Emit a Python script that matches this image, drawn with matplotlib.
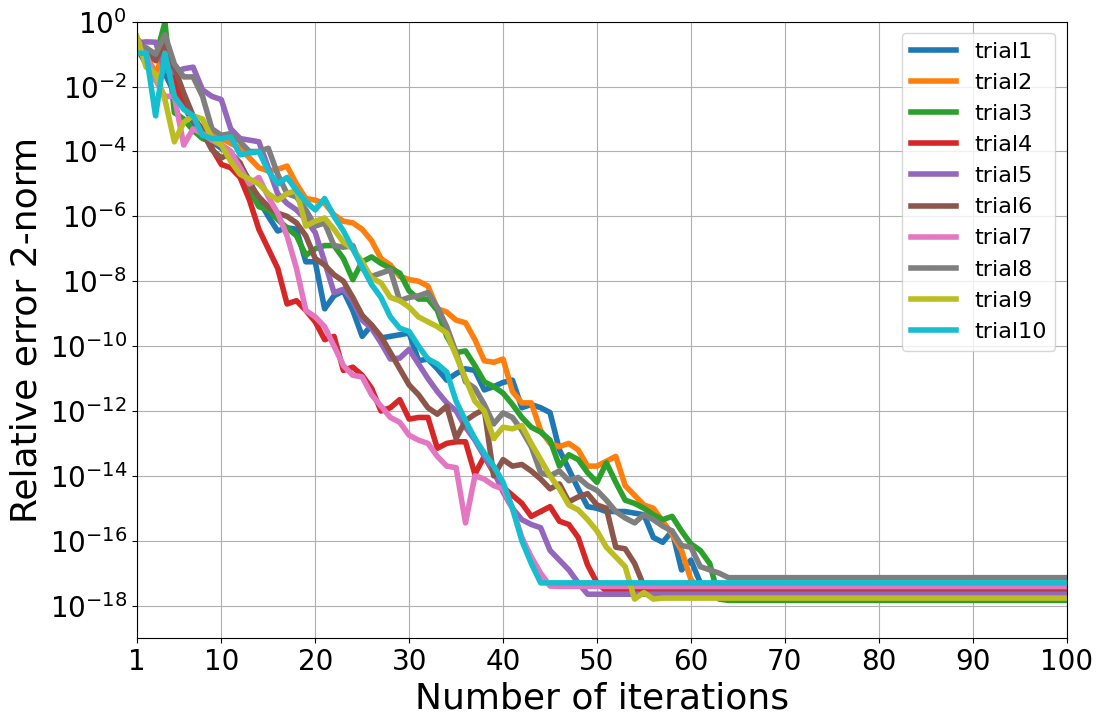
import numpy as np
import matplotlib
matplotlib.use("Agg")
import matplotlib.pyplot as plt

iters = np.arange(1, 101)

# log10 of relative error
trial1 = [-0.8, -1.3, -1.0, -1.6, -2.2, -2.6, -3.1, -3.5, -3.7, -3.9,
          -4.1, -4.4, -4.9, -5.5, -6.0, -6.45, -6.35, -6.4, -7.4, -7.4,
          -8.85, -8.45, -8.3, -8.9, -9.7, -9.35, -9.75, -9.7, -9.65, -9.6,
          -10.45, -10.4, -10.7, -11.05, -10.85, -10.7, -10.75, -11.35, -11.25, -11.12,
          -11.05, -11.9, -11.8, -11.9, -12.05, -13.2, -13.8, -14.4, -14.95, -15.0,
          -15.1, -15.1, -15.1, -15.15, -15.2, -15.9, -16.05, -15.7, -16.9, -16.6,
          -17.3] + [-17.5] * 39
trial2 = [-0.7, -1.0, -1.6, -0.9, -1.8, -2.5, -3.0, -3.3, -3.5, -3.6,
          -3.75, -3.9, -4.2, -4.5, -4.6, -4.55, -4.45, -5.0, -5.45, -5.5,
          -5.6, -5.95, -6.15, -6.2, -6.4, -6.75, -7.3, -7.5, -7.85, -7.95,
          -8.0, -8.15, -8.85, -8.95, -9.2, -9.28, -9.8, -10.45, -10.5, -10.4,
          -11.4, -11.75, -11.75, -12.6, -13.0, -13.1, -13.0, -13.2, -13.7, -13.7,
          -13.55, -13.4, -14.3, -14.6, -14.9, -15.0, -15.4, -15.8, -16.3, -17.2] + [-17.5] * 40
trial3 = [-0.6, -1.0, -1.1, -0.02, -2.8, -3.0, -3.35, -3.6, -3.7, -3.8,
          -4.0, -4.6, -5.2, -5.7, -5.8, -6.1, -6.35, -6.6, -7.2, -7.0,
          -6.9, -6.9, -7.3, -7.95, -7.4, -7.25, -7.45, -7.6, -7.75, -8.3,
          -8.55, -8.55, -8.9, -9.7, -10.2, -10.15, -10.6, -11.1, -11.25, -11.45,
          -11.8, -12.2, -12.5, -12.65, -12.9, -13.7, -13.35, -13.5, -13.9, -14.2,
          -13.6, -14.2, -14.75, -14.85, -15.0, -15.2, -15.35, -15.25, -15.7, -16.1,
          -16.3, -16.7, -17.8] + [-17.84] * 37
trial4 = [-0.8, -1.2, -1.0, -0.6, -1.8, -2.6, -3.0, -3.3, -3.9, -4.4,
          -4.5, -4.8, -5.5, -6.4, -7.0, -7.6, -8.7, -8.6, -8.9, -9.25,
          -9.8, -9.7, -10.75, -10.65, -10.9, -11.3, -12.0, -11.9, -11.65, -12.25,
          -12.2, -12.2, -13.15, -13.0, -12.95, -12.95, -13.95, -13.4, -13.9, -14.35,
          -14.6, -14.85, -15.25, -15.1, -14.95, -15.4, -15.5, -15.9, -16.75, -17.3] + [-17.55] * 50
trial5 = [-0.65, -0.62, -0.63, -1.5, -1.55, -1.45, -1.4, -2.1, -2.3, -2.4,
          -3.3, -3.6, -3.65, -3.7, -4.5, -5.3, -5.6, -5.8, -6.1, -6.5,
          -7.4, -8.35, -8.25, -8.6, -9.2, -9.45, -9.9, -10.4, -10.37, -10.1,
          -10.55, -11.0, -11.4, -11.75, -12.0, -12.5, -12.9, -13.4, -13.85, -14.5,
          -15.0, -15.35, -15.5, -15.6, -16.3, -16.6, -16.9, -17.3] + [-17.65] * 52
trial6 = [-0.5, -0.9, -1.2, -0.6, -1.4, -2.2, -2.9, -3.4, -3.95, -4.2,
          -4.05, -4.35, -5.0, -5.4, -5.7, -5.9, -6.0, -6.2, -6.6, -7.3,
          -7.5, -7.8, -8.0, -8.5, -9.05, -9.35, -9.7, -10.2, -10.7, -11.2,
          -11.5, -11.9, -12.1, -11.85, -12.85, -12.3, -12.1, -11.95, -14.0, -13.5,
          -13.7, -13.65, -13.85, -14.1, -14.4, -14.25, -14.8, -14.65, -14.55, -14.9,
          -15.0, -16.2, -16.25, -16.7, -17.4] + [-17.45] * 45
trial7 = [-0.5, -1.0, -1.8, -2.3, -2.3, -3.8, -3.3, -3.45, -3.65, -3.8,
          -4.0, -4.5, -5.0, -4.8, -5.4, -5.9, -6.6, -7.6, -8.9, -9.1,
          -9.4, -10.0, -10.6, -10.9, -10.95, -11.5, -11.85, -12.2, -12.35, -12.75,
          -12.9, -13.0, -13.4, -13.7, -13.75, -15.45, -14.0, -14.1, -14.3, -14.4,
          -15.0, -15.9, -16.5, -17.0, -17.4] + [-17.41] * 55
trial8 = [-0.7, -0.8, -1.0, -0.4, -1.3, -1.7, -1.7, -2.3, -3.3, -3.5,
          -3.45, -3.7, -4.0, -4.0, -3.9, -4.7, -5.3, -5.4, -5.8, -6.3,
          -6.2, -6.9, -6.95, -6.9, -7.6, -7.85, -7.75, -7.65, -8.6, -8.5,
          -8.45, -8.35, -8.8, -9.4, -10.2, -11.1, -11.3, -11.8, -12.4, -12.06,
          -12.2, -12.6, -13.1, -13.9, -14.0, -13.85, -14.15, -14.05, -14.3, -14.45,
          -14.75, -15.1, -15.3, -15.45, -15.2, -15.35, -15.55, -15.7, -16.15, -16.2,
          -16.8, -16.9, -17.0, -17.14] + [-17.14] * 36
trial9 = [-0.45, -1.4, -1.6, -2.4, -3.7, -3.1, -2.9, -3.0, -3.6, -3.8,
          -4.3, -4.7, -4.85, -5.0, -5.3, -5.5, -5.3, -5.2, -6.3, -6.15,
          -6.05, -6.4, -6.8, -7.0, -7.4, -7.9, -8.05, -8.5, -8.6, -8.8,
          -9.1, -9.25, -9.4, -9.6, -10.3, -11.0, -11.7, -12.0, -12.85, -12.5,
          -12.55, -12.45, -13.0, -13.5, -14.0, -14.4, -14.9, -15.05, -15.35, -15.7,
          -16.2, -16.5, -16.8, -17.8, -17.6, -17.8] + [-17.77] * 44
trial10 = [-0.97, -0.97, -2.9, -0.97, -2.3, -2.7, -2.9, -3.5, -3.6, -3.6,
           -3.55, -4.1, -4.05, -4.0, -4.6, -5.0, -4.8, -5.2, -5.55, -5.8,
           -5.45, -6.0, -6.45, -7.0, -7.55, -8.1, -8.5, -9.1, -9.45, -9.55,
           -10.0, -10.4, -10.55, -10.8, -11.7, -12.3, -12.85, -13.3, -13.7, -14.2,
           -15.0, -16.0, -16.7, -17.3] + [-17.3] * 56

trials = [trial1, trial2, trial3, trial4, trial5,
          trial6, trial7, trial8, trial9, trial10]
names = ["trial%d" % (i + 1) for i in range(10)]

fig = plt.figure(figsize=(11.03, 7.25), dpi=100)
ax = fig.add_axes([0.124, 0.12, 0.843, 0.85])

for t, nm in zip(trials, names):
    ax.semilogy(iters, 10.0 ** np.array(t), marker=".", markersize=3,
                linewidth=4, label=nm)

ax.set_xlim(1, 100)
ax.set_ylim(1e-19, 1e0)
ax.set_xticks([1, 10, 20, 30, 40, 50, 60, 70, 80, 90, 100])
ax.set_yticks([10.0 ** k for k in range(0, -19, -2)])
ax.yaxis.set_minor_locator(matplotlib.ticker.NullLocator())
ax.tick_params(labelsize=20)
ax.grid(True)
ax.set_xlabel("Number of iterations", fontsize=26)
ax.set_ylabel("Relative error 2-norm", fontsize=26)
ax.legend(loc="upper right", fontsize=16, handlelength=2.05)

fig.savefig("out.png", dpi=100)
